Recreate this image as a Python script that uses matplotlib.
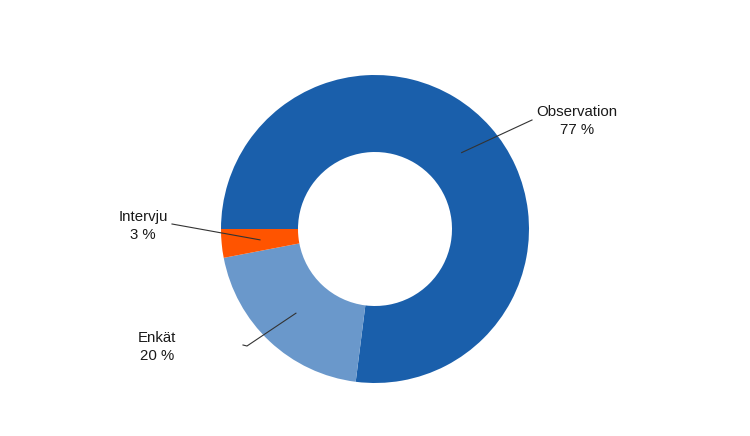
import numpy as np
import matplotlib.pyplot as plt

plt.rcParams['font.family'] = ['Liberation Sans', 'DejaVu Sans']

labels = ['Observation', 'Enkät', 'Intervju']
values = [77, 20, 3]
colors = ['#1a5fab', '#6a98cb', '#ff5400']

# label text position (pixels, y from top) and end of leader line
text_pos = [(577, 121), (157, 347), (143, 226)]
line_end = [[(532, 120)], [(247, 346), (243, 345)], [(172, 224)]]

W, H = 750, 436
fig = plt.figure(figsize=(W / 100, H / 100), dpi=100)
ax = fig.add_axes([0, 0, 1, 1])

cx, cy, R = 375, H - 229, 154
wedges, _ = ax.pie(values, colors=colors, startangle=180, counterclock=False,
                   center=(cx, cy), radius=R, frame=True,
                   wedgeprops=dict(width=R / 2, linewidth=0))
ax.set_xlim(0, W)
ax.set_ylim(0, H)
ax.axis('off')

for w, lab, v, tp, le in zip(wedges, labels, values, text_pos, line_end):
    mid = np.deg2rad((w.theta1 + w.theta2) / 2)
    r = R * 0.75
    ax0 = cx + r * np.cos(mid)
    ay0 = cy + r * np.sin(mid)
    xs = [ax0] + [p[0] for p in le]
    ys = [ay0] + [H - p[1] for p in le]
    ax.plot(xs, ys, color='#333333', lw=0.8)
    ax.text(tp[0], H - tp[1], f'{lab}\n{v} %', ha='center', va='center',
            fontsize=10.8, color='#1a1a1a', linespacing=1.35)

fig.savefig('out.png', dpi=100)
